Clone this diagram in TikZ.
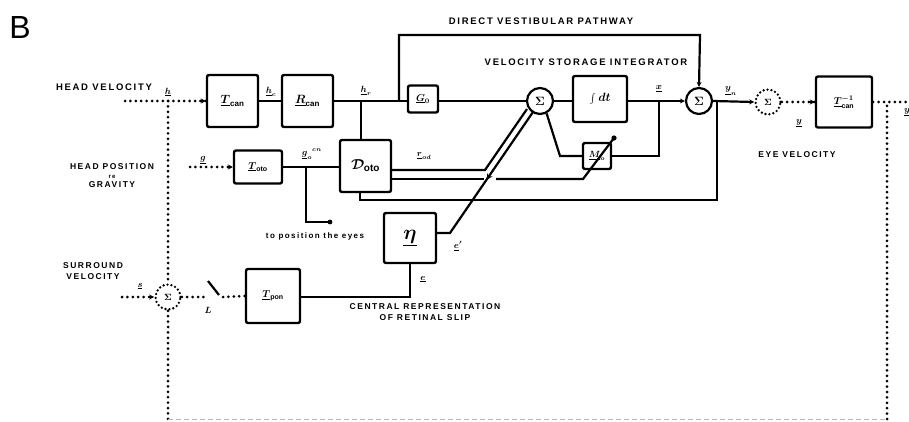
\documentclass[tikz,border=0pt]{standalone}
\usepackage{fontspec}
\setmainfont{Liberation Sans}
\newfontfamily\capfont[LetterSpace=18]{Liberation Sans}
\usetikzlibrary{arrows.meta,calc}
\begin{document}
\begin{tikzpicture}[x=1pt,y=-1pt,
  box/.style={draw, line width=2.4pt, rounded corners=2pt, inner sep=0pt, font=\boldmath\large},
  sumc/.style={draw, circle, line width=2.2pt, inner sep=0pt, minimum size=26pt, font=\boldmath\large},
  dsum/.style={draw, circle, line width=2.6pt, line cap=round, dash pattern=on 0pt off 4pt, inner sep=0pt, minimum size=25pt, font=\boldmath\small},
  wire/.style={line width=2.2pt},
  dotl/.style={line width=3pt, line cap=round, dash pattern=on 0pt off 5.4pt},
  captext/.style={font=\capfont\bfseries\fontsize{9.5}{11}\selectfont, inner sep=0pt, align=center},
  sym/.style={font=\boldmath\small, inner sep=1pt},
  tip/.style={-{Stealth[length=5pt,width=5pt]}}
]
\useasboundingbox (0,0) rectangle (909,422);

% title
\node[font=\fontsize{32}{32}\selectfont, inner sep=0pt] (B) at (20,27) {B};

% text labels
\node[captext] (lhv) at (104,87) {HEAD VELOCITY};
\node[captext, font=\capfont\bfseries\fontsize{8.5}{10}\selectfont] (lhp) at (112,176) {HEAD POSITION\\[-1pt]{\fontsize{6}{6}\selectfont re}\\[-1pt]GRAVITY};
\node[captext, font=\capfont\bfseries\fontsize{8.5}{10}\selectfont] (lsv) at (93,271) {SURROUND\\[1pt]VELOCITY};
\node[captext] (ldv) at (541,21) {DIRECT VESTIBULAR PATHWAY};
\node[captext] (lvs) at (586,62) {VELOCITY STORAGE INTEGRATOR};
\node[captext, font=\capfont\bfseries\fontsize{8.5}{10}\selectfont] (lev) at (797,155) {EYE VELOCITY};
\node[captext, font=\capfont\bfseries\fontsize{8.5}{10}\selectfont] (lcr) at (425,312) {CENTRAL REPRESENTATION\\[1pt]OF RETINAL SLIP};
\node[font=\capfont\bfseries\fontsize{8}{9}\selectfont, inner sep=0pt] (lpe) at (315,236) {to position the eyes};

% blocks
\node[box, minimum width=51pt, minimum height=52pt] (Tcan) at (232.5,101) {$\underline{T}_{\mathrm{can}}$};
\node[box, minimum width=51pt, minimum height=52pt] (Rcan) at (307.5,101) {$\underline{R}_{\mathrm{can}}$};
\node[box, minimum width=30pt, minimum height=27pt, font=\boldmath] (C0) at (423,99) {$\underline{G}_{0}$};
\node[box, minimum width=54pt, minimum height=46pt] (Int) at (600,99) {$\int dt$};
\node[box, minimum width=56pt, minimum height=51pt, font=\boldmath] (Inv) at (844,102) {$\underline{T}^{-1}_{\mathrm{can}}$};
\node[box, minimum width=48pt, minimum height=33pt, font=\boldmath] (Toto) at (258,167) {$\underline{T}_{\mathrm{oto}}$};
\node[box, minimum width=51pt, minimum height=52pt, font=\boldmath\Large] (Doto) at (365.5,166) {$\mathcal{D}_{\mathrm{oto}}$};
\node[box, minimum width=28pt, minimum height=26pt, font=\boldmath\small] (M) at (597,156) {$\underline{M}_{o}$};
\node[box, minimum width=52pt, minimum height=50pt, font=\boldmath\huge] (Eta) at (410,238) {$\underline{\eta}$};
\node[box, minimum width=54pt, minimum height=54pt, font=\boldmath] (Tpon) at (273,296) {$\underline{T}_{\mathrm{pon}}$};

% summing junctions
\node[sumc] (S1) at (540,101) {$\Sigma$};
\node[sumc] (S2) at (699,101) {$\Sigma$};
\node[dsum] (S3) at (768,102) {$\Sigma$};
\node[dsum] (S4) at (168,297) {$\Sigma$};

% coordinates
\coordinate (hvin) at (125,101);
\coordinate (jh) at (168,101);
\coordinate (bl) at (168,419);
\coordinate (br) at (887,419);
\coordinate (jo) at (887,102);
\coordinate (oend) at (912,102);
\coordinate (jr) at (361,101);
\coordinate (jd) at (399,101);
\coordinate (dtop1) at (399,35);
\coordinate (dtop2) at (700,35);
\coordinate (jx) at (659,101);
\coordinate (mx) at (659,156);
\coordinate (ml) at (560,156);
\coordinate (jy) at (717,101);
\coordinate (fb1) at (717,200);
\coordinate (fb2) at (360,200);
\coordinate (gin) at (190,167);
\coordinate (jg) at (306,167);
\coordinate (pe1) at (306,222);
\coordinate (pe2) at (330,222);
\coordinate (du1) at (391,170);
\coordinate (du2) at (485,170);
\coordinate (du3) at (527,109);
\coordinate (dl1) at (391,179);
\coordinate (dl2) at (484,179);
\coordinate (dl3) at (496,179);
\coordinate (dl4) at (583,179);
\coordinate (mtip) at (614,138);
\coordinate (e1) at (450,233);
\coordinate (e2) at (533,112);
\coordinate (sin) at (122,297);
\coordinate (sw1) at (205,297);
\coordinate (swa) at (208,281);
\coordinate (swb) at (219,295);
\coordinate (sw2) at (223,297);
\coordinate (tp1) at (410,297);

% head velocity input (dotted)
\draw[dotl] (hvin) -- (jh);
\draw[dotl] (jh) -- (Tcan.west);
\draw[tip, wire] ([xshift=-6pt]Tcan.west) -- (Tcan.west);
\draw[dotl] (jh) -- (S4.north);
\draw[dotl] (S4.south) -- (bl);
\draw[line width=1pt, gray!55, dash pattern=on 5pt off 3pt] (bl) -- (br);
\draw[dotl] (br) -- (jo);
\draw[dotl] (Inv.east) -- (oend);

% top chain
\draw[wire] (Tcan.east) -- (Rcan.west);
\draw[wire] (Rcan.east) -- (C0.west |- jr);
\draw[wire] (jr) -- (jr |- Doto.north);
\draw[wire, tip] (jd) -- (dtop1) -- (dtop2) -- (S2.north);
\draw[wire] (C0.east |- S1.west) -- (S1.west);
\draw[wire] (S1.east) -- (Int.west |- S1.east);
\draw[wire, tip] (Int.east |- S2.west) -- (S2.west);
\draw[wire] (jx) -- (mx) -- (M.east |- mx);
\draw[wire] (M.west |- ml) -- (ml) -- (S1.-62);
\draw[wire, tip] (S2.east) -- (S3.west);
\draw[wire] (jy) -- (fb1) -- (fb2) -- (fb2 |- Doto.south);
\draw[dotl] (S3.east) -- (Inv.west);
\draw[tip, wire] ([xshift=-6pt]Inv.west) -- (Inv.west);

% otolith chain
\draw[dotl] (gin) -- (Toto.west);
\draw[tip, wire] ([xshift=-6pt]Toto.west) -- (Toto.west);
\draw[wire] (Toto.east) -- (Doto.west |- Toto.east);
\draw[wire] (jg) -- (pe1) -- (pe2);
\fill (pe2) circle (2.4pt);
\draw[wire] (du1) -- (du2) -- (du3);
\draw[wire] (dl1) -- (dl2);
\draw[wire] (dl3) -- (dl4) -- (mtip);
\fill (mtip) circle (2.6pt);
\draw[wire] (Eta.east |- e1) -- (e1) -- (e2);
\draw[-{Stealth[length=6pt,width=6pt]}, line width=1pt] ($(e1)!0.49!(e2)$) -- ($(e1)!0.44!(e2)$);

% optokinetic chain
\draw[dotl] (sin) -- (S4.west);
\draw[tip, wire] ([xshift=-5pt]S4.west) -- (S4.west);
\draw[dotl] (S4.east) -- (sw1);
\draw[wire] (swa) -- (swb);
\draw[dotl] (sw2) -- (Tpon.west);
\draw[wire] (Tpon.east |- tp1) -- (tp1) -- (tp1 |- Eta.south);

% signal labels
\node[sym] (lh) at (168,92) {$\underline{h}$};
\node[sym] (lhc) at (271,92) {$\underline{h}_c$};
\node[sym] (lhr) at (366,91) {$\underline{h}_r$};
\node[sym] (lg) at (203,160) {$\underline{g}$};
\node[sym] (lgo) at (312,154) {$\underline{g}_{o}{}^{cn}$};
\node[sym] (lro) at (424,156) {$\underline{r}_{od}$};
\node[sym] (lx) at (659,89) {$\underline{x}$};
\node[sym] (lyn) at (731,91) {$\underline{y}_{n}$};
\node[sym] (ly) at (799,123) {$\underline{y}$};
\node[sym] (lyr) at (907,112) {$\underline{y}$};
\node[sym] (led) at (458,246) {$\underline{e}'$};
\node[sym] (le) at (423,279) {$\underline{e}$};
\node[sym] (ls) at (140,286) {$\underline{s}$};
\node[sym] (lL) at (208,310) {$L$};
\end{tikzpicture}
\end{document}
